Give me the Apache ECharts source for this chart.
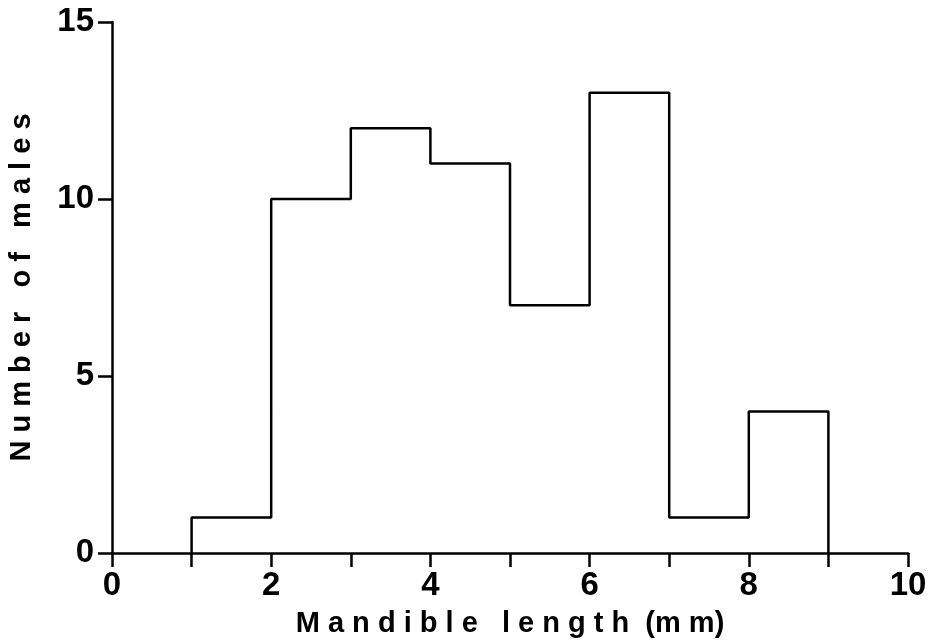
<!DOCTYPE html>
<html>
<head>
<meta charset="utf-8">
<script src="https://cdn.jsdelivr.net/npm/echarts@6/dist/echarts.min.js"></script>
<style>
  html, body { margin: 0; padding: 0; background: #fff; }
  #chart { width: 931px; height: 644px; }
</style>
</head>
<body>
<div id="chart"></div>
<script>
  // histogram bins (mm) and counts
  var binStart = [1, 2, 3, 4, 5, 6, 7, 8];
  var binEnd = [2, 3, 4, 5, 6, 7, 8, 9];
  var counts = [1, 10, 12, 11, 7, 13, 1, 4];
  var xTicks = [0, 2, 4, 6, 8, 10];
  var yTicks = [0, 5, 10, 15];

  // outline of the histogram (step shape)
  var outline = [[binStart[0], 0]];
  binStart.forEach(function (s, i) {
    outline.push([s, counts[i]]);
    outline.push([binEnd[i], counts[i]]);
  });
  outline.push([binEnd[binEnd.length - 1], 0]);

  var font = '"Liberation Sans", Arial, sans-serif';
  var myChart = echarts.init(document.getElementById('chart'));
  myChart.setOption({
    animation: false,
    grid: { left: 112, right: 23, top: 22, bottom: 91, containLabel: false, outerBoundsMode: 'none' },
    xAxis: {
      type: 'value',
      min: 0, max: 10, interval: 1,
      name: 'M a n d i b l e   l e n g t h  (m m)',
      nameLocation: 'middle',
      nameGap: 56,
      nameTextStyle: { fontFamily: font, fontWeight: 'bold', fontSize: 29, color: '#000' },
      axisLine: { lineStyle: { color: '#000', width: 2.5 } },
      axisTick: { length: 14, lineStyle: { color: '#000', width: 2.5 } },
      axisLabel: {
        fontFamily: font, fontWeight: 'bold', fontSize: 33, color: '#000', margin: 16,
        formatter: function (v) { return xTicks.indexOf(v) >= 0 ? String(v) : ''; }
      },
      splitLine: { show: false }
    },
    yAxis: {
      type: 'value',
      min: 0, max: 15, interval: 5,
      name: 'N u m b e r   o f   m a l e s',
      nameLocation: 'middle',
      nameGap: 76,
      nameTextStyle: { fontFamily: font, fontWeight: 'bold', fontSize: 29, color: '#000' },
      axisLine: { show: true, lineStyle: { color: '#000', width: 2.5 } },
      axisTick: { show: true, length: 14, lineStyle: { color: '#000', width: 2.5 } },
      axisLabel: {
        fontFamily: font, fontWeight: 'bold', fontSize: 33, color: '#000', margin: 18,
        formatter: function (v) { return yTicks.indexOf(v) >= 0 ? String(v) : ''; }
      },
      splitLine: { show: false }
    },
    series: [{
      type: 'line',
      data: outline,
      symbol: 'none',
      lineStyle: { color: '#000', width: 2.5 }
    }]
  });
</script>
</body>
</html>
